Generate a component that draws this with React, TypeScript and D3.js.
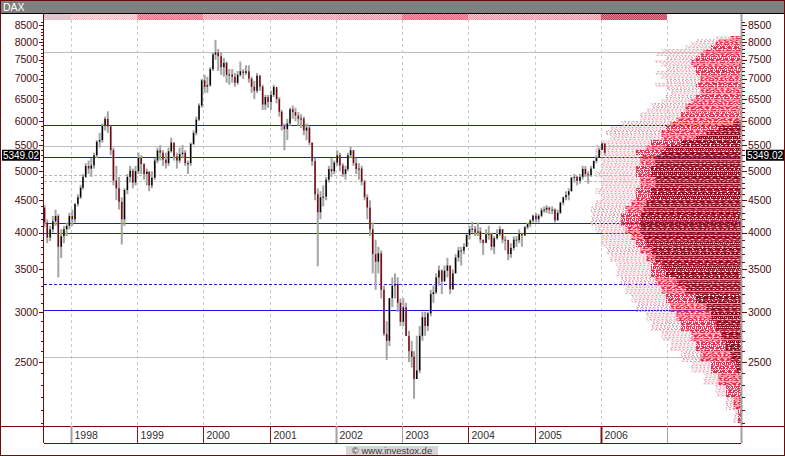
import React from "react";
import * as d3 from "d3";

type Bar = [number, number, number]; // high, low, close (open = previous close)

const FIRST_OPEN = 4380;

// half-monthly bars, Aug 1997 .. Jan 2006
const BARS_1997: Bar[] = [
  [4420, 4080, 4150], [4200, 3850, 3930],
  [4100, 3880, 4050], [4250, 4000, 4168],
  [4350, 4100, 4250], [4280, 3400, 3800],
  [4050, 3650, 3950], [4100, 3850, 4050],
  [4150, 3950, 4100], [4300, 4050, 4250],
];
const BARS_1998: Bar[] = [
  [4350, 4100, 4200], [4450, 4150, 4441],
  [4600, 4400, 4550], [4760, 4520, 4710],
  [4950, 4680, 4900], [5150, 4880, 5097],
  [5200, 4950, 5050], [5250, 4900, 5107],
  [5350, 5050, 5300], [5600, 5250, 5568],
  [5750, 5450, 5600], [5950, 5550, 5897],
  [6100, 5800, 6050], [6217, 5750, 5884],
  [5900, 5300, 5400], [5450, 4750, 4834],
  [5100, 4500, 4700], [4900, 4350, 4474],
  [4550, 3833, 4200], [4700, 4100, 4671],
  [4950, 4600, 4900], [5100, 4800, 5011],
  [5050, 4700, 4800], [5100, 4750, 5002],
];
const BARS_1999: Bar[] = [
  [5350, 4950, 5250], [5300, 4950, 5133],
  [5150, 4850, 4950], [5050, 4750, 4993],
  [5000, 4650, 4750], [5000, 4700, 4884],
  [5250, 4850, 5200], [5450, 5150, 5393],
  [5500, 5200, 5350], [5400, 5100, 5217],
  [5350, 5050, 5150], [5450, 5100, 5378],
  [5650, 5350, 5550], [5550, 5200, 5275],
  [5350, 5050, 5200], [5450, 5150, 5322],
  [5500, 5250, 5350], [5400, 5100, 5149],
  [5200, 4950, 5150], [5550, 5100, 5525],
  [5800, 5500, 5750], [6100, 5700, 6033],
  [6400, 6000, 6350], [7000, 6300, 6958],
];
const BARS_2000: Bar[] = [
  [7100, 6650, 6800], [7050, 6650, 6835],
  [7300, 6800, 7250], [7700, 7200, 7644],
  [8064, 7500, 7700], [7800, 7200, 7599],
  [7700, 7100, 7300], [7550, 7050, 7414],
  [7450, 6900, 7100], [7250, 6850, 7109],
  [7250, 6900, 7050], [7150, 6800, 6898],
  [7200, 6850, 7100], [7450, 7050, 7191],
  [7250, 7000, 7150], [7350, 7100, 7193],
  [7350, 6900, 7000], [7050, 6650, 6798],
  [6950, 6500, 6700], [7150, 6650, 7077],
  [7100, 6700, 6800], [6850, 6250, 6372],
  [6600, 6250, 6550], [6600, 6300, 6434],
];
const BARS_2001: Bar[] = [
  [6700, 6250, 6600], [6850, 6550, 6795],
  [6750, 6400, 6500], [6550, 6100, 6208],
  [6250, 5800, 5900], [5950, 5400, 5829],
  [6050, 5600, 5950], [6300, 5900, 6264],
  [6350, 6050, 6200], [6300, 6000, 6123],
  [6200, 5900, 6050], [6150, 5850, 6058],
  [6100, 5700, 5800], [5950, 5600, 5861],
  [5900, 5500, 5550], [5550, 5100, 5188],
  [5250, 4500, 4600], [4700, 3540, 4308],
  [4650, 4200, 4550], [4750, 4400, 4560],
  [4900, 4500, 4850], [5100, 4800, 5040],
  [5250, 4900, 5000], [5200, 4950, 5160],
];
const BARS_2002: Bar[] = [
  [5400, 5100, 5300], [5350, 5000, 5108],
  [5150, 4900, 4950], [5100, 4850, 5039],
  [5350, 5000, 5300], [5467, 5250, 5397],
  [5400, 5100, 5150], [5250, 4950, 5041],
  [5150, 4850, 5050], [5100, 4750, 4818],
  [4850, 4500, 4550], [4600, 4200, 4383],
  [4500, 3950, 4050], [4150, 3450, 3700],
  [3900, 3250, 3600], [3800, 3450, 3712],
  [3750, 3150, 3250], [3300, 2750, 2769],
  [2900, 2519, 2700], [3150, 2650, 3153],
  [3400, 3050, 3300], [3450, 3150, 3321],
  [3400, 3000, 3100], [3150, 2850, 2893],
];
const BARS_2003: Bar[] = [
  [3150, 2850, 3050], [3100, 2750, 2747],
  [2800, 2500, 2600], [2700, 2450, 2548],
  [2600, 2188, 2350], [2750, 2350, 2424],
  [2850, 2400, 2750], [3000, 2700, 2942],
  [3000, 2750, 2850], [3000, 2800, 2983],
  [3250, 2950, 3200], [3300, 3100, 3221],
  [3450, 3200, 3400], [3550, 3300, 3487],
  [3500, 3200, 3350], [3550, 3350, 3484],
  [3650, 3400, 3550], [3550, 3200, 3257],
  [3500, 3250, 3450], [3700, 3450, 3655],
  [3800, 3600, 3750], [3800, 3550, 3746],
  [3850, 3700, 3800], [3980, 3800, 3965],
];
const BARS_2004: Bar[] = [
  [4100, 3900, 4050], [4160, 4000, 4058],
  [4100, 3950, 4000], [4150, 3950, 4018],
  [4080, 3850, 3900], [3900, 3690, 3856],
  [4050, 3850, 3980], [4100, 3900, 3985],
  [4000, 3750, 3800], [3950, 3700, 3921],
  [4050, 3900, 3980], [4100, 3950, 4052],
  [4050, 3850, 3900], [3950, 3750, 3895],
  [3900, 3618, 3700], [3850, 3650, 3785],
  [3950, 3750, 3900], [3950, 3800, 3893],
  [4050, 3850, 3990], [4000, 3800, 3960],
  [4100, 3950, 4080], [4150, 4050, 4126],
  [4200, 4080, 4180], [4270, 4150, 4256],
];
const BARS_2005: Bar[] = [
  [4300, 4150, 4200], [4280, 4150, 4254],
  [4380, 4230, 4340], [4400, 4300, 4350],
  [4420, 4300, 4380], [4400, 4280, 4349],
  [4400, 4280, 4350], [4370, 4150, 4185],
  [4350, 4180, 4300], [4480, 4280, 4461],
  [4560, 4420, 4550], [4650, 4500, 4587],
  [4700, 4500, 4650], [4900, 4650, 4886],
  [4950, 4800, 4900], [4920, 4750, 4829],
  [4950, 4780, 4900], [5100, 4850, 5044],
  [5100, 4900, 4950], [5000, 4780, 4929],
  [5100, 4900, 5050], [5200, 5050, 5193],
  [5300, 5150, 5250], [5450, 5250, 5408],
];
const BARS_2006: Bar[] = [
  [5560, 5400, 5530], [5540, 5300, 5349.02],
];

const LAST_PRICE = 5349.02;

const YEAR_LABELS = ["1998", "1999", "2000", "2001", "2002", "2003", "2004", "2005", "2006", ""];
const PRICE_LABELS = [2500, 3000, 3500, 4000, 4500, 5000, 5500, 6000, 6500, 7000, 7500, 8000, 8500];

// horizontal support/resistance levels
const LEVEL_VALUES = [7715, 5923, 5488, 5272, 4941, 4835, 4137, 4002, 3317, 3020, 2546];
const LEVEL_KINDS = ["gray", "blue", "gray", "blue", "grayDot", "grayDot", "blue", "blue", "blueDot", "blue", "gray"];

// price-distribution profile, bins of 100 points starting at 2000
const PROFILE_START = 2000;
const PROFILE_TOTAL = [
  5, 10, 17, 25, 33, 40, 47, 53, 60, 63, // 2000-2900
  70, 73, 77, 80, 83, 83, 87, 90, 93, 93, // 3000-3900
  97, 100, 100, 100, 97, 93, 97, 93, 93, 97, // 4000-4900
  93, 93, 93, 97, 97, 93, 87, 90, 87, 80, // 5000-5900
  67, 67, 63, 60, 53, 50, 47, 50, 57, 50, // 6000-6900
  53, 57, 50, 53, 57, 50, 57, 53, 37, 33, // 7000-7900
  30, 17, // 8000-8100
];
const PROFILE_CORE = [
  2, 5, 10, 15, 20, 27, 30, 33, 40, 43,
  47, 50, 53, 57, 60, 60, 63, 67, 70, 73,
  77, 80, 80, 77, 73, 70, 70, 67, 67, 70,
  70, 67, 67, 70, 63, 60, 53, 53, 50, 47,
  43, 40, 37, 37, 33, 30, 27, 27, 30, 27,
  27, 30, 30, 33, 33, 30, 27, 25, 20, 17,
  15, 7,
];
const PROFILE_RECENT = [
  0, 0, 0, 0, 3, 7, 10, 13, 17, 20,
  23, 30, 37, 43, 50, 53, 57, 60, 63, 65,
  67, 67, 67, 65, 63, 60, 60, 57, 57, 60,
  60, 57, 57, 53, 50, 40, 30, 23, 15, 5,
  0, 0, 0, 0, 0, 0, 0, 0, 0, 0,
  0, 0, 0, 0, 0, 0, 0, 0, 0, 0,
  0, 0,
];

const BAND_COLORS: [string, string][] = [
  ["#d4c8cc", "#f0c4cc"],
  ["#f5b4c0", "#fde2e6"],
  ["#ec6a82", "#f6aab8"],
  ["#f394a6", "#fbd2da"],
  ["#f394a6", "#fbd2da"],
  ["#f08ca0", "#fbd0d8"],
  ["#e5647c", "#f39fb0"],
  ["#f08ca0", "#fbd0d8"],
  ["#f08ca0", "#fbd0d8"],
  ["#c23c58", "#e47f94"],
];

const ROW_DASHES = ["4,1", "2,2", "6,1,2,1", "1,1", "3,1,1,1", "5,2"];

const FONT = "'Liberation Sans', Arial, sans-serif";

export default function App() {
  const L = 44, R = 741, T = 14, B = 426;
  const x = d3.scaleTime().domain([new Date(1998, 0, 1), new Date(2007, 0, 1)]).range([71, 667]);
  const y = d3.scaleLog().domain([8000, 2500]).range([42, 362]);
  const vol = d3.scaleLinear().domain([0, 100]).range([0, 150]);

  const bars = [BARS_1997, BARS_1998, BARS_1999, BARS_2000, BARS_2001, BARS_2002, BARS_2003, BARS_2004, BARS_2005, BARS_2006].flat();
  const candles = bars.map((b, i) => {
    const open = i === 0 ? FIRST_OPEN : bars[i - 1][2];
    const date = new Date(1997, 7 + Math.floor(i / 2), i % 2 === 0 ? 8 : 23);
    return { date, open, high: b[0], low: b[1], close: b[2] };
  });

  const yearStarts = d3.range(1998, 2008).map((yr) => new Date(yr, 0, 1));
  const bandEdges = [L, ...yearStarts.map((d) => x(d))];

  const minor = d3.range(2000, 8700, 100);

  // histogram rows
  const rows: { r: number; tot: number; core: number; rec: number; k: number }[] = [];
  const rTop = Math.ceil(y(8200));
  const rBot = Math.floor(y(2000));
  for (let r = rTop; r <= rBot; r++) {
    const p = y.invert(r + 0.5);
    const idx = Math.floor((p - PROFILE_START) / 100);
    if (idx < 0 || idx >= PROFILE_TOTAL.length) continue;
    rows.push({ r: r + 0.5, k: r, tot: vol(PROFILE_TOTAL[idx]), core: vol(PROFILE_CORE[idx]), rec: vol(PROFILE_RECENT[idx]) });
  }

  const sepColors = ["#a0a0a0", "#7a1a1a", "#7a1a1a", "#7a1a1a", "#a0a0a0", "#a0a0a0", "#7a1a1a", "#7a1a1a", "#7a1a1a", "#a0a0a0"];

  const levelStyle = (k: string) => {
    switch (k) {
      case "blue": return { stroke: "#1818e8", dash: undefined };
      case "blueDot": return { stroke: "#1818e8", dash: "3,2" };
      case "grayDot": return { stroke: "#b8b8b8", dash: "3,2" };
      default: return { stroke: "#c0c0c0", dash: undefined };
    }
  };

  const lastY = y(LAST_PRICE);

  return (
    <svg width={785} height={456} style={{ position: "absolute", left: 0, top: 0, display: "block" }} fontFamily={FONT}>
      <defs>
        {BAND_COLORS.map((c, i) => (
          <pattern key={i} id={`band${i}`} width={2} height={2} patternUnits="userSpaceOnUse">
            <rect width={2} height={2} fill={c[1]} />
            <rect width={1} height={1} fill={c[0]} />
            <rect x={1} y={1} width={1} height={1} fill={c[0]} />
          </pattern>
        ))}
        <clipPath id="plotClip">
          <rect x={L} y={T} width={R - L} height={B - T} />
        </clipPath>
      </defs>
      <rect x={0} y={0} width={785} height={456} fill="#ffffff" />

      {/* title bar */}
      <rect x={0} y={0} width={785} height={13} fill="#808080" />
      <line x1={0} x2={785} y1={13.5} y2={13.5} stroke="#000" />
      <text x={3} y={10.5} fontSize={10.5} fill="#ffffff">DAX</text>

      {/* year band */}
      {BAND_COLORS.map((c, i) => (
        <rect key={i} x={bandEdges[i]} y={14} width={bandEdges[i + 1] - bandEdges[i]} height={6} fill={`url(#band${i})`} />
      ))}

      <g clipPath="url(#plotClip)">
        {/* year grid */}
        {yearStarts.map((d, i) => (
          <line key={i} x1={Math.round(x(d)) + 0.5} x2={Math.round(x(d)) + 0.5} y1={20} y2={B} stroke="#c8c8c8" strokeDasharray="3,3" />
        ))}
        {/* levels */}
        {LEVEL_VALUES.map((v, i) => {
          const s = levelStyle(LEVEL_KINDS[i]);
          const yy = Math.round(y(v)) + 0.5;
          return <line key={i} x1={L} x2={R} y1={yy} y2={yy} stroke={s.stroke} strokeDasharray={s.dash} strokeWidth={1} />;
        })}
        {/* profile */}
        {rows.map((row, i) => {
          const d1 = ROW_DASHES[row.k % ROW_DASHES.length];
          const d2 = ROW_DASHES[(row.k * 5 + 2) % ROW_DASHES.length];
          const off = (row.k * 7) % 9;
          return (
            <g key={i}>
              <line x1={R - row.tot} x2={R - row.core} y1={row.r} y2={row.r}
                stroke={row.k % 3 === 0 ? "#d0d0d0" : "#f4a2b0"} strokeDasharray={row.k % 2 ? "2,2" : "1,2"} strokeDashoffset={off} />
              <line x1={R - row.core} x2={R} y1={row.r} y2={row.r}
                stroke={row.k % 4 === 1 ? "#ec6d82" : "#e2324c"} strokeDasharray={d1} strokeDashoffset={off} />
              {row.rec > 0 && row.k % 4 !== 3 && (
                <line x1={R - row.rec} x2={R} y1={row.r} y2={row.r}
                  stroke={row.k % 5 === 0 ? "#a82238" : "#86101f"} strokeDasharray={row.k % 2 ? d2 : "9,1"} strokeDashoffset={off} />
              )}
            </g>
          );
        })}
        {/* candles */}
        {candles.map((c, i) => {
          const cx = x(c.date);
          const up = c.close >= c.open;
          const y0 = y(Math.max(c.open, c.close));
          const y1 = y(Math.min(c.open, c.close));
          return (
            <g key={i}>
              <line x1={cx} x2={cx} y1={y(c.high)} y2={y(c.low)} stroke="#a4a4a4" strokeWidth={2} />
              <rect x={cx - 0.7} y={y0} width={1.4} height={Math.max(1, y1 - y0)} fill={up ? "#000000" : "#7a0010"} />
            </g>
          );
        })}
      </g>

      {/* left axis */}
      <line x1={L - 0.5} x2={L - 0.5} y1={14} y2={443} stroke="#6b0a0a" />
      {minor.map((v) => (
        <line key={v} x1={41} x2={L} y1={Math.round(y(v)) + 0.5} y2={Math.round(y(v)) + 0.5} stroke="#6b0a0a" />
      ))}
      {PRICE_LABELS.map((v) => (
        <g key={v}>
          <line x1={39} x2={L} y1={Math.round(y(v)) + 0.5} y2={Math.round(y(v)) + 0.5} stroke="#6b0a0a" />
          <text x={38} y={y(v)} dy="0.35em" textAnchor="end" fontSize={10.5} fill="#4a0a0a">{v}</text>
        </g>
      ))}

      {/* right axis */}
      <line x1={R + 0.5} x2={R + 0.5} y1={14} y2={443} stroke="#a0a0a0" strokeWidth={2} />
      {minor.map((v) => (
        <line key={v} x1={R + 1} x2={R + 4} y1={Math.round(y(v)) + 0.5} y2={Math.round(y(v)) + 0.5} stroke="#6b0a0a" />
      ))}
      {PRICE_LABELS.map((v) => (
        <g key={v}>
          <line x1={R + 1} x2={R + 6} y1={Math.round(y(v)) + 0.5} y2={Math.round(y(v)) + 0.5} stroke="#6b0a0a" />
          <text x={R + 7} y={y(v)} dy="0.35em" fontSize={10.5} fill="#4a0a0a">{v}</text>
        </g>
      ))}

      {/* last price boxes */}
      <rect x={2} y={lastY - 3} width={38} height={11} fill="#000" />
      <text x={21} y={lastY + 2.5} dy="0.35em" textAnchor="middle" fontSize={10} fill="#fff">{LAST_PRICE.toFixed(2)}</text>
      <rect x={746} y={lastY - 3} width={38} height={11} fill="#000" />
      <text x={765} y={lastY + 2.5} dy="0.35em" textAnchor="middle" fontSize={10} fill="#fff">{LAST_PRICE.toFixed(2)}</text>

      {/* x axis row */}
      <line x1={0} x2={785} y1={B + 0.5} y2={B + 0.5} stroke="#6b0a0a" />
      <line x1={L} x2={R} y1={443.5} y2={443.5} stroke="#6b0a0a" />
      {yearStarts.map((d, i) => {
        const xx = Math.round(x(d)) + 0.5;
        return (
          <g key={i}>
            <line x1={xx} x2={xx} y1={B} y2={443} stroke={sepColors[i]} strokeWidth={i % 4 === 0 ? 2 : 1} />
            <text x={xx + 3} y={439} fontSize={10.5} fill="#303030">{YEAR_LABELS[i]}</text>
          </g>
        );
      })}

      {/* footer */}
      <rect x={346} y={446} width={92} height={9} fill="#d6d6d6" />
      <text x={392} y={454} textAnchor="middle" fontSize={9.5} fill="#404040">© www.investox.de</text>

      {/* outer frame */}
      <rect x={0.5} y={0.5} width={784} height={455} fill="none" stroke="#6b0a0a" />
    </svg>
  );
}
